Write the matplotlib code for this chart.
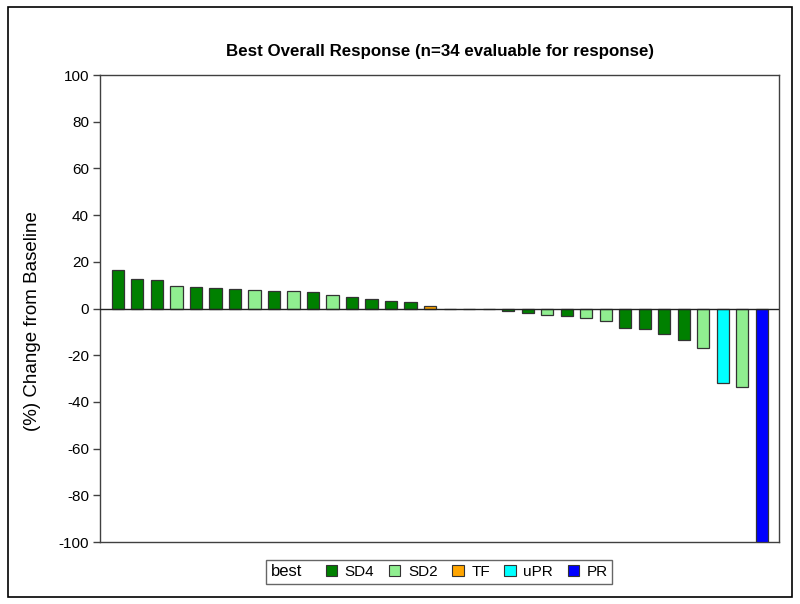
import matplotlib
matplotlib.use("Agg")
import matplotlib.pyplot as plt
from matplotlib.patches import Rectangle
from matplotlib.offsetbox import HPacker

plt.rcParams["font.family"] = ["Liberation Sans", "DejaVu Sans"]
plt.rcParams["axes.unicode_minus"] = False

# ── Data ──────────────────────────────────────────────────────────────
pct_change = [16.5, 12.6, 12.2, 9.5, 9.2, 8.8, 8.3, 8.0, 7.6, 7.3, 6.9, 6.0,
              5.0, 3.9, 3.1, 2.9, 1.0, 0.0, 0.0, 0.0, -1.0, -1.9, -2.9, -3.2,
              -4.2, -5.3, -8.2, -8.9, -10.8, -13.5, -16.7, -32.1, -33.4, -100.0]
best = ["SD4", "SD4", "SD4", "SD2", "SD4", "SD4", "SD4", "SD2", "SD4", "SD2",
        "SD4", "SD2", "SD4", "SD4", "SD4", "SD4", "TF", "SD4", "SD4", "SD4",
        "SD4", "SD4", "SD2", "SD4", "SD2", "SD2", "SD4", "SD4", "SD4", "SD4",
        "SD2", "uPR", "SD2", "PR"]
categories = ["SD4", "SD2", "TF", "uPR", "PR"]
cat_colors = {"SD4": "#008000", "SD2": "#90EE90", "TF": "#FFA500",
              "uPR": "#00FFFF", "PR": "#0000FF"}
y_ticks = list(range(-100, 101, 20))

fig = plt.figure(figsize=(8, 6.04), dpi=100)
ax = fig.add_axes([0.125, 0.1026, 0.849, 0.7732])

x = list(range(len(pct_change)))
ax.bar(x, pct_change, width=0.62, color=[cat_colors[b] for b in best],
       edgecolor="#333333", linewidth=0.9, zorder=3)
ax.axhline(0, color="#222222", linewidth=1.0, zorder=4)

ax.set_xlim(-0.92, len(pct_change) - 1 + 0.9)
ax.set_ylim(-100, 100)
ax.set_yticks(y_ticks)
ax.set_xticks([])
ax.tick_params(axis="y", direction="out", length=5, width=1, labelsize=11,
               color="#404040", pad=3)
for sp in ax.spines.values():
    sp.set_color("#404040")
    sp.set_linewidth(1.0)

fig.text(33 / 800, 1 - 321 / 604, "(%) Change from Baseline", rotation=90,
         ha="center", va="center", fontsize=13.5)
fig.text(0.55, 0.914, "Best Overall Response (n=34 evaluable for response)",
         ha="center", va="center", fontsize=12.2, fontweight="bold")

# ── Legend: title "best" sits on the same row as the entries ──────────
handles = [Rectangle((0, 0), 1, 1, facecolor=cat_colors[c],
                     edgecolor="#333333", linewidth=0.8) for c in categories]
leg = fig.legend(handles, categories, loc="center",
                 bbox_to_anchor=(0.549, 0.053), ncol=5, fontsize=11,
                 title="best", title_fontsize=12, frameon=True, fancybox=False,
                 handlelength=0.75, handleheight=0.75, handletextpad=0.5,
                 columnspacing=0.95, borderpad=0.3)
fs = leg._fontsize
leg._legend_box = HPacker(pad=leg.borderpad * fs, sep=1.55 * fs, align="center",
                          children=[leg._legend_title_box,
                                    leg._legend_handle_box])
leg._legend_box.set_figure(fig)
leg._legend_box.set_offset(leg._findoffset)
leg.get_frame().set_edgecolor("#404040")
leg.get_frame().set_linewidth(1.0)

# outer frame around the whole graph
fig.patches.append(Rectangle((8 / 800, 7 / 604), 784 / 800, 590 / 604,
                             transform=fig.transFigure, fill=False,
                             edgecolor="black", linewidth=1.2))

fig.savefig("out.png", dpi=100)
